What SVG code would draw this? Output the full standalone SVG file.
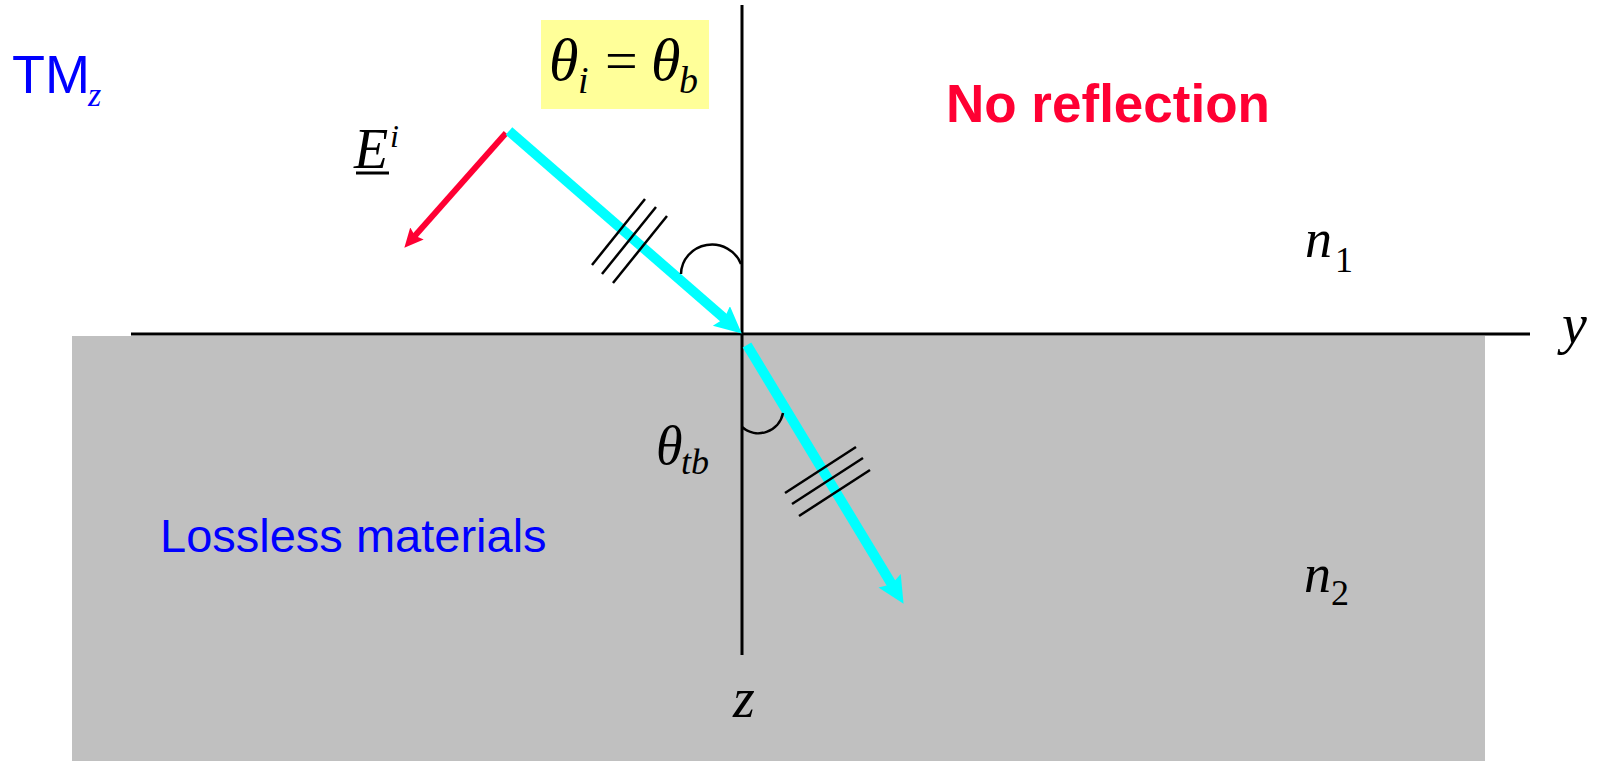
<svg xmlns="http://www.w3.org/2000/svg" width="1604" height="761" viewBox="0 0 1604 761">
<style>
.math{font-family:"Liberation Serif","Times New Roman",serif;font-style:italic;fill:#000}
.up{font-family:"Liberation Serif","Times New Roman",serif;fill:#000}
.sans{font-family:"Liberation Sans",Arial,sans-serif}
.axis{stroke:#000;stroke-width:3;fill:none}
.thin{stroke:#000;stroke-width:2.5;fill:none}
.ray{stroke:#00FFFF;stroke-width:10;fill:none}
.efield{stroke:#FF0033;stroke-width:6;fill:none}
</style>
<defs>
<marker id="cyanHead" markerUnits="userSpaceOnUse" markerWidth="30" markerHeight="28" refX="6" refY="13" orient="auto">
<path d="M0,0 L27,13 L0,26 L4,13 z" fill="#00FFFF"/>
</marker>
<marker id="redHead" markerUnits="userSpaceOnUse" markerWidth="22" markerHeight="20" refX="4" refY="9" orient="auto">
<path d="M0,0 L19,9 L0,18 L3,9 z" fill="#FF0033"/>
</marker>
</defs>
<rect id="lower-medium" x="72" y="336" width="1413" height="425" fill="#C0C0C0"/>
<g id="axes">
<line class="axis" x1="131" y1="334" x2="1530" y2="334"/>
<line class="axis" x1="742" y1="5" x2="742" y2="655"/>
</g>
<g id="label-box">
<rect x="541" y="20" width="168" height="89" fill="#FFFF99"/>
<text class="math" x="549" y="80" font-size="60">θ</text>
<text class="math" x="578" y="93" font-size="38">i</text>
<text class="up" x="605" y="80" font-size="58">=</text>
<text class="math" x="651" y="80" font-size="60">θ</text>
<text class="math" x="679" y="93" font-size="38">b</text>
</g>
<g id="tmz">
<text class="sans" x="12" y="93" font-size="54" fill="#0000FF">TM</text>
<text class="math" x="88" y="106" font-size="34" style="fill:#0000FF">z</text>
</g>
<g id="no-reflection">
<text class="sans" x="946" y="122" font-size="53" font-weight="bold" fill="#FF0033">No reflection</text>
</g>
<g id="lossless">
<text class="sans" x="160" y="552" font-size="47" fill="#0000FF">Lossless materials</text>
</g>
<g id="e-label">
<text class="math" x="354" y="168" font-size="56">E</text>
<line x1="356" y1="173" x2="389" y2="173" stroke="#000" stroke-width="3"/>
<text class="math" x="390" y="147" font-size="32">i</text>
</g>
<g id="n1"><text class="math" x="1305" y="257" font-size="54">n</text><text class="up" x="1335" y="272" font-size="36">1</text></g>
<g id="n2"><text class="math" x="1304" y="592" font-size="54">n</text><text class="up" x="1331" y="605" font-size="36">2</text></g>
<g id="z-label"><text class="math" x="733" y="717" font-size="56">z</text></g>
<g id="y-label"><text class="math" x="1562" y="343" font-size="56">y</text></g>
<g id="theta-tb">
<text class="math" x="656" y="464" font-size="54">θ</text>
<text class="math" x="681" y="474" font-size="36">tb</text>
</g>
<g id="connectors">
<line class="efield" x1="506" y1="133" x2="414.3" y2="236.5" marker-end="url(#redHead)"/>
<line class="ray" x1="509" y1="131" x2="725.9" y2="319.8" marker-end="url(#cyanHead)"/>
<line class="ray" x1="747" y1="345" x2="892.7" y2="585.9" marker-end="url(#cyanHead)"/>
<g id="hash-incident">
<line class="thin" x1="592" y1="265" x2="645" y2="199"/>
<line class="thin" x1="602" y1="274" x2="656" y2="207"/>
<line class="thin" x1="613" y1="283" x2="667" y2="216"/>
</g>
<g id="hash-transmitted">
<line class="thin" x1="785" y1="493" x2="856" y2="447"/>
<line class="thin" x1="792" y1="504" x2="863" y2="458"/>
<line class="thin" x1="799" y1="516" x2="870" y2="470"/>
</g>
<path class="thin" d="M681,274 A31,30 0 0 1 741,264"/>
<path class="thin" d="M742,427 A25,25 0 0 0 783,413"/>
</g>
</svg>
